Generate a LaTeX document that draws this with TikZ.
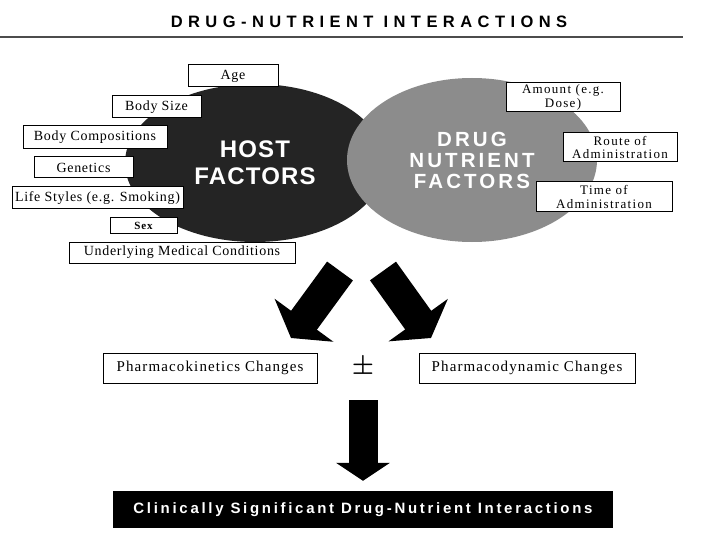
\documentclass[tikz,border=0pt]{standalone}
\usepackage{fontspec}
\setmainfont{Liberation Serif}
\newfontfamily\dnsans{Liberation Sans}
\usetikzlibrary{shapes.geometric, arrows.meta, positioning, calc}
\tikzset{
  dn box/.style={draw=black, fill=white, line width=1pt, inner sep=0pt, align=center,
    font=\fontsize{14}{15}\selectfont\addfontfeature{LetterSpace=5}},
  dn twoline/.style={dn box, font=\fontsize{13}{13.5}\selectfont\addfontfeature{LetterSpace=10}},
  dn change/.style={dn box, minimum height=30pt,
    font=\fontsize{15}{16}\selectfont\addfontfeature{LetterSpace=7.5}},
  dn host/.style={ellipse, fill=black!86, inner sep=0pt, align=center, text=white,
    font=\dnsans\bfseries\fontsize{24}{27}\selectfont\addfontfeature{LetterSpace=5}},
  dn drug/.style={ellipse, fill=black!45, inner sep=0pt, align=center, text=white,
    font=\dnsans\bfseries\fontsize{20.5}{21}\selectfont\addfontfeature{LetterSpace=15}},
  dn big/.style={draw=black, line width=32pt, -{Triangle[length=22pt, width=72pt]}},
  dn down/.style={draw=black, line width=29pt, -{Triangle[length=18pt, width=53pt]}},
  dn result/.style={fill=black, text=white, inner sep=0pt,
    font=\dnsans\bfseries\fontsize{15}{16}\selectfont\addfontfeature{LetterSpace=18}},
}

\begin{document}
\begin{tikzpicture}[x=1pt, y=-1pt]
 \useasboundingbox[fill=white] (0,0) rectangle (720,540);
 \node[font=\dnsans\bfseries\fontsize{16.5}{18}\selectfont\addfontfeature{LetterSpace=33}] (title) at (369,22)
   {DRUG-NUTRIENT INTERACTIONS};
 \draw[black!70, line width=1.2pt] (0,37) -- (683,37);
 % the two factor groups
 \node[dn host, minimum width=260pt, minimum height=158pt] (host) at (255,163) {HOST\\FACTORS};
 \node[dn drug, minimum width=250pt, minimum height=164pt] (drug) at (472,160)
   {DRUG\\NUTRIENT\\FACTORS};
 % host factors
 \node[dn box, minimum width=90pt, minimum height=22pt] (age) at (233,76) {Age};
 \node[dn box, minimum width=89pt, minimum height=22pt] (size) at (156.5,107) {Body Size};
 \node[dn box, minimum width=144pt, minimum height=23pt] (comp) at (95,137.5) {Body Compositions};
 \node[dn box, minimum width=99pt, minimum height=21pt] (gen) at (83.5,167.5) {Genetics};
 \node[dn box, minimum width=171pt, minimum height=22pt] (life) at (97.5,198) {Life Styles (e.g. Smoking)};
 \node[dn box, minimum width=67pt, minimum height=15pt, font=\bfseries\fontsize{11}{12}\selectfont\addfontfeature{LetterSpace=8}]
   (sex) at (143.5,225.5) {Sex};
 \node[dn box, minimum width=226pt, minimum height=21pt] (med) at (182,252.5) {Underlying Medical Conditions};
 % drug-nutrient factors
 \node[dn twoline, minimum width=114pt, minimum height=29pt] (dose) at (563,97.5) {Amount (e.g.\\Dose)};
 \node[dn twoline, minimum width=114pt, minimum height=29pt] (route) at (620,147.5) {Route of\\Administration};
 \node[dn twoline, minimum width=136pt, minimum height=30pt] (time) at (604,197) {Time of\\Administration};
 % changes
 \node[dn change, minimum width=214pt] (pk) at (210,368) {Pharmacokinetics Changes};
 \node[dn change, minimum width=216pt, right=101pt of pk] (pd) {Pharmacodynamic Changes};
 \node[font=\boldmath\fontsize{30}{30}\selectfont] (pm) at (363,367) {$\pm$};
 \node[dn result, minimum width=500pt, minimum height=37pt] (res) at (363,509.5)
   {Clinically Significant Drug-Nutrient Interactions};
 % block arrows
 \coordinate (lfrom) at (340,271);
 \coordinate (lto) at (291,338);
 \coordinate (rfrom) at (383,271);
 \coordinate (rto) at (431,338);
 \draw[dn big] (lfrom) -- (lto);
 \draw[dn big] (rfrom) -- (rto);
 \draw[dn down, shorten <=20pt, shorten >=10pt] (pm.south) -- (res.north);
\end{tikzpicture}
\end{document}
